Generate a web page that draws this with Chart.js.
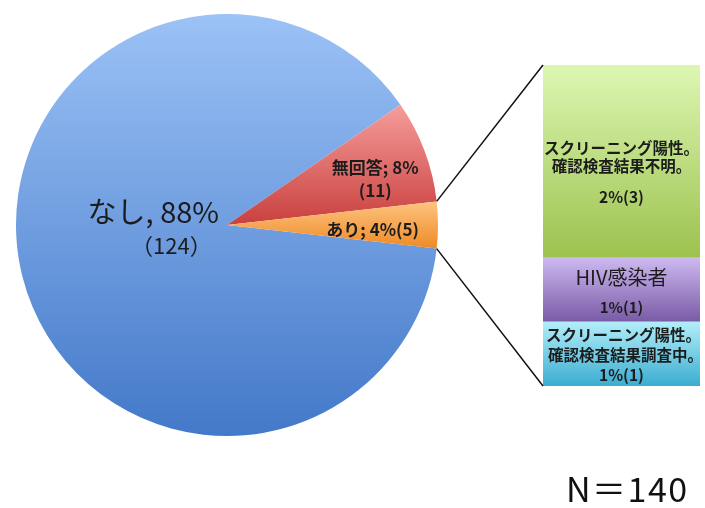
<!DOCTYPE html>
<html>
<head>
<meta charset="utf-8">
<script src="https://cdn.jsdelivr.net/npm/chart.js@4"></script>
<style>
  html, body { margin: 0; padding: 0; background: #fff; }
  #wrap { position: relative; width: 705px; height: 508px; overflow: hidden; }
  #wrap canvas { position: absolute; left: 0; top: 0; }
  #total { position: absolute; left: 566px; top: 463px; font: 34px "Noto Sans CJK JP", sans-serif; letter-spacing: 1.5px; color: #111; }
</style>
</head>
<body>
<div id="wrap">
  <canvas id="pie" width="705" height="508"></canvas>
  <canvas id="bar" width="705" height="508"></canvas>
  <div id="total">N＝140</div>
</div>
<script>
// pie: main answers
const pieLabels = [ 'なし', '無回答', 'あり' ];
const pieCounts = [ 124, 11, 5 ];
const piePercents = [ '88%', '8%', '4%' ];

// bar: breakdown of あり, bottom to top
const subLabels = [ 'スクリーニング陽性。\n確認検査結果調査中。', 'HIV感染者', 'スクリーニング陽性。\n確認検査結果不明。' ];
const subCounts = [ 1, 1, 3 ];
const subPercents = [ '1%', '1%', '2%' ];

const pieColors = [ [ '#9cc2f6', '#4379c9' ], [ '#f59d9b', '#c9403e' ], [ '#fdc47f', '#ef8a26' ] ];
const subColors = [ [ '#b2eefa', '#3badd0' ], [ '#cdbaf0', '#7a5aa6' ], [ '#ddf7b3', '#9cc24e' ] ];

const total = pieCounts.reduce((a, b) => a + b, 0);
const subTotal = subCounts.reduce((a, b) => a + b, 0);
const FONT = '"Noto Sans CJK JP", sans-serif';

// rotate so the last slice (あり) sits centred on the right
const lastAngle = pieCounts[pieCounts.length - 1] / total * 360;
const rotation = 90 + lastAngle / 2;

let sliceRange = function(i) {
  let start = (rotation - 90) * Math.PI / 180;
  for (let k = 0; k < i; k++) start += pieCounts[k] / total * Math.PI * 2;
  return [ start, start + pieCounts[i] / total * Math.PI * 2 ];
};

let pieGradient = function(c) {
  let chart = c.chart, area = chart.chartArea;
  let colors = pieColors[c.dataIndex];
  if (!area) return colors[1];
  let cx = (area.left + area.right) / 2, cy = (area.top + area.bottom) / 2;
  let r = Math.min(area.width, area.height) / 2;
  let [a0, a1] = sliceRange(c.dataIndex);
  let ys = [ cy, cy + Math.sin(a0) * r, cy + Math.sin(a1) * r ];
  for (let t = -Math.PI / 2; t < a1 + Math.PI * 4; t += Math.PI) {
    if (t > a0 && t < a1) ys.push(cy + Math.sin(t) * r);
  }
  let g = chart.ctx.createLinearGradient(0, Math.min(...ys), 0, Math.max(...ys));
  g.addColorStop(0, colors[0]);
  g.addColorStop(1, colors[1]);
  return g;
};

let pieText = {
  id: 'pieText',
  afterDatasetsDraw(chart) {
    let ctx = chart.ctx;
    let meta = chart.getDatasetMeta(0);
    // [text, font, dx, dy] relative to a point inside each slice
    let spots = [
      { f: 0.36, lines: [ [ pieLabels[0] + ', ' + piePercents[0], 'normal 29px', 0, -32 ], [ '（' + pieCounts[0] + '）', 'normal 22px', 18, 2 ] ] },
      { f: 0.75, lines: [ [ pieLabels[1] + '; ' + piePercents[1], 'bold 17px', 0, -2 ], [ '(' + pieCounts[1] + ')', 'bold 17px', 0, 21 ] ] },
      { f: 0.69, lines: [ [ pieLabels[2] + '; ' + piePercents[2] + '(' + pieCounts[2] + ')', 'bold 17px', 0, 5 ] ] },
    ];
    ctx.save();
    ctx.fillStyle = '#1c1c1c';
    ctx.textAlign = 'center';
    ctx.textBaseline = 'middle';
    meta.data.forEach((arc, i) => {
      let p = arc.getProps([ 'x', 'y', 'startAngle', 'endAngle', 'outerRadius' ], true);
      let mid = (p.startAngle + p.endAngle) / 2;
      let x = p.x + Math.cos(mid) * p.outerRadius * spots[i].f;
      let y = p.y + Math.sin(mid) * p.outerRadius * spots[i].f;
      spots[i].lines.forEach(l => {
        ctx.font = l[1] + ' ' + FONT;
        ctx.fillText(l[0], x + l[2], y + l[3]);
      });
    });
    ctx.restore();
  }
};

let pieChart = new Chart(document.getElementById('pie'), {
  type: 'pie',
  data: {
    labels: pieLabels,
    datasets: [ { data: pieCounts, backgroundColor: pieGradient, borderWidth: 0 } ],
  },
  options: {
    responsive: false,
    animation: false,
    rotation: rotation,
    layout: { padding: { left: 16, top: 14, right: 267, bottom: 72 } },
    plugins: { legend: { display: false }, tooltip: { enabled: false } },
  },
  plugins: [ pieText ],
});

let barGradient = function(c) {
  let chart = c.chart, area = chart.chartArea;
  let colors = subColors[c.datasetIndex];
  if (!area) return colors[1];
  let y = chart.scales.y;
  let below = 0;
  for (let k = 0; k < c.datasetIndex; k++) below += subCounts[k];
  let g = chart.ctx.createLinearGradient(0, y.getPixelForValue(below + subCounts[c.datasetIndex]), 0, y.getPixelForValue(below));
  g.addColorStop(0, colors[0]);
  g.addColorStop(1, colors[1]);
  return g;
};

let barText = {
  id: 'barText',
  afterDatasetsDraw(chart) {
    let ctx = chart.ctx;
    ctx.save();
    ctx.fillStyle = '#1c1c1c';
    ctx.textAlign = 'center';
    ctx.textBaseline = 'middle';
    chart.data.datasets.forEach((ds, i) => {
      let bar = chart.getDatasetMeta(i).data[0];
      let p = bar.getProps([ 'x', 'y', 'base' ], true);
      let cy = (p.y + p.base) / 2;
      let names = subLabels[i].split('\n');
      let value = subPercents[i] + '(' + subCounts[i] + ')';
      if (names.length === 1) {
        ctx.font = 'normal 20px ' + FONT;
        ctx.fillText(names[0], p.x, cy - 12);
        ctx.font = 'bold 15px ' + FONT;
        ctx.fillText(value, p.x, cy + 18);
      } else if (subCounts[i] > 1) {
        ctx.font = 'bold 15.5px ' + FONT;
        ctx.fillText(names[0], p.x, cy - 13);
        ctx.fillText(names[1], p.x, cy + 5);
        ctx.fillText(value, p.x, cy + 36);
      } else {
        ctx.font = 'bold 15.5px ' + FONT;
        ctx.fillText(names[0], p.x + 2, cy - 19);
        ctx.fillText(names[1], p.x + 4, cy + 1);
        ctx.fillText(value, p.x, cy + 21);
      }
    });
    ctx.restore();
  }
};

// lines from the あり slice to the breakdown bar
let connectors = {
  id: 'connectors',
  afterDraw(chart) {
    let arc = pieChart.getDatasetMeta(0).data[pieCounts.length - 1];
    let p = arc.getProps([ 'x', 'y', 'startAngle', 'endAngle', 'outerRadius' ], true);
    let area = chart.chartArea;
    let ctx = chart.ctx;
    ctx.save();
    ctx.strokeStyle = '#111';
    ctx.lineWidth = 1.5;
    ctx.beginPath();
    ctx.moveTo(p.x + Math.cos(p.startAngle) * p.outerRadius, p.y + Math.sin(p.startAngle) * p.outerRadius);
    ctx.lineTo(area.left, area.top);
    ctx.moveTo(p.x + Math.cos(p.endAngle) * p.outerRadius, p.y + Math.sin(p.endAngle) * p.outerRadius);
    ctx.lineTo(area.left, area.bottom);
    ctx.stroke();
    ctx.restore();
  }
};

new Chart(document.getElementById('bar'), {
  type: 'bar',
  data: {
    labels: [ pieLabels[2] ],
    datasets: subCounts.map((v, i) => ({
      label: subLabels[i],
      data: [ v ],
      backgroundColor: barGradient,
      borderWidth: 0,
      barPercentage: 1,
      categoryPercentage: 1,
    })),
  },
  options: {
    responsive: false,
    animation: false,
    layout: { padding: { left: 543, top: 65, right: 5, bottom: 122 } },
    scales: {
      x: { display: false, stacked: true },
      y: { display: false, stacked: true, min: 0, max: subTotal },
    },
    plugins: { legend: { display: false }, tooltip: { enabled: false } },
  },
  plugins: [ barText, connectors ],
});
</script>
</body>
</html>
